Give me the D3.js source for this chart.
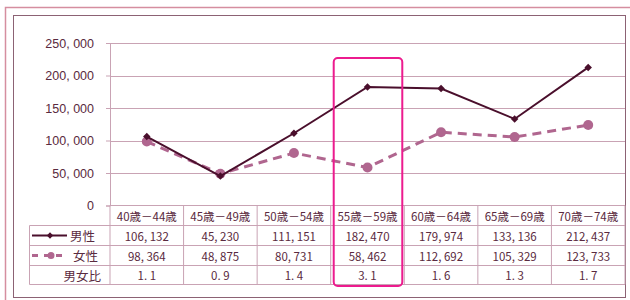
<!DOCTYPE html>
<html>
<head>
<meta charset="utf-8">
<script src="https://cdn.jsdelivr.net/npm/d3@7"></script>
<style>
  body { margin: 0; background: #fff; }
  svg { display: block; font-family: "Noto Sans CJK JP", "Noto Sans", sans-serif; }
</style>
</head>
<body>
<svg id="chart" width="630" height="300"></svg>
<script>
const categories = ["40歳－44歳", "45歳－49歳", "50歳－54歳", "55歳－59歳", "60歳－64歳", "65歳－69歳", "70歳－74歳"];
const maleValues = [106132, 45230, 111151, 182470, 179974, 133136, 212437];
const femaleValues = [98364, 48875, 80731, 58462, 112692, 105329, 123733];
const ratioValues = ["1. 1", "0. 9", "1. 4", "3. 1", "1. 6", "1. 3", "1. 7"];
const yTicks = [0, 50000, 100000, 150000, 200000, 250000];
const highlightCategory = "55歳－59歳";

const svg = d3.select("#chart");
const textColor = "#5a2a40";
const gridColor = "#c9a3b4";
const maleColor = "#4a0f2c";
const femaleColor = "#b0668f";

// frames
svg.append("path")
    .attr("d", "M5.5,300 V7.5 H630")
    .attr("fill", "none")
    .attr("stroke", "#d58ea0")
    .attr("stroke-width", 1.5);
svg.append("rect")
    .attr("x", 13.5).attr("y", 15.5)
    .attr("width", 612).attr("height", 282)
    .attr("fill", "none")
    .attr("stroke", "#8c6274");

const plotLeft = 110, plotRight = 625, plotTop = 43, plotBottom = 205.5;

const x = d3.scaleBand()
    .domain(categories)
    .range([plotLeft, plotRight]);

const y = d3.scaleLinear()
    .domain([0, 250000])
    .range([plotBottom, plotTop]);

const fmt = v => d3.format(",")(v).replace(",", ", ");

// gridlines + ticks
const yAxis = svg.append("g")
    .attr("transform", `translate(${plotLeft},0)`)
    .call(d3.axisLeft(y).tickValues(yTicks).tickSize(4).tickPadding(12).tickFormat(fmt));
yAxis.select(".domain").attr("stroke", gridColor);
yAxis.selectAll(".tick line").attr("stroke", gridColor);
yAxis.selectAll(".tick text")
    .attr("fill", textColor)
    .style("font-size", "12.5px");

svg.append("g")
    .selectAll("line")
    .data(yTicks.filter(t => t > 0))
    .join("line")
    .attr("x1", plotLeft).attr("x2", plotRight)
    .attr("y1", d => Math.round(y(d)) + 0.5)
    .attr("y2", d => Math.round(y(d)) + 0.5)
    .attr("stroke", gridColor);

svg.append("line")
    .attr("x1", plotLeft).attr("x2", plotRight)
    .attr("y1", plotBottom).attr("y2", plotBottom)
    .attr("stroke", gridColor);

const cx = d => x(d) + x.bandwidth() / 2;

// female series (dashed, circles)
const femaleLine = d3.line()
    .x((d, i) => cx(categories[i]))
    .y(d => y(d));
svg.append("path")
    .datum(femaleValues)
    .attr("d", femaleLine)
    .attr("fill", "none")
    .attr("stroke", femaleColor)
    .attr("stroke-width", 3)
    .attr("stroke-dasharray", "9,6");
svg.append("g")
    .selectAll("circle")
    .data(femaleValues)
    .join("circle")
    .attr("cx", (d, i) => cx(categories[i]))
    .attr("cy", d => y(d))
    .attr("r", 5)
    .attr("fill", femaleColor);

// male series (solid, diamonds = rotated squares)
svg.append("path")
    .datum(maleValues)
    .attr("d", d3.line().x((d, i) => cx(categories[i])).y(d => y(d)))
    .attr("fill", "none")
    .attr("stroke", maleColor)
    .attr("stroke-width", 2);
svg.append("g")
    .selectAll("path")
    .data(maleValues)
    .join("path")
    .attr("d", d3.symbol(d3.symbolSquare, 28))
    .attr("transform", (d, i) => `translate(${cx(categories[i])},${y(d)}) rotate(45)`)
    .attr("fill", maleColor);

// data table
const rowY = [205.5, 225.5, 245.5, 265.5, 284.5];
const tableLeft = 29.5;
const tbl = svg.append("g").attr("stroke", gridColor).attr("fill", "none");
// horizontal lines
rowY.forEach((ry, i) => {
    tbl.append("line")
        .attr("x1", i === 0 ? plotLeft : tableLeft).attr("x2", plotRight)
        .attr("y1", ry).attr("y2", ry);
});
// vertical lines
tbl.append("line").attr("x1", tableLeft).attr("x2", tableLeft).attr("y1", rowY[1]).attr("y2", rowY[4]);
categories.concat(["end"]).forEach((c, i) => {
    const lx = c === "end" ? plotRight : x(c);
    tbl.append("line").attr("x1", lx).attr("x2", lx).attr("y1", rowY[0]).attr("y2", rowY[4]);
});

const cellText = (tx, ty, txt, anchor, size) => svg.append("text")
    .attr("x", tx).attr("y", ty)
    .attr("text-anchor", anchor || "middle")
    .attr("dominant-baseline", "central")
    .attr("fill", textColor)
    .style("font-size", size || "11.5px")
    .text(txt);

categories.forEach((c, i) => {
    cellText(cx(c), (rowY[0] + rowY[1]) / 2, c);
    cellText(cx(c), (rowY[1] + rowY[2]) / 2, fmt(maleValues[i]));
    cellText(cx(c), (rowY[2] + rowY[3]) / 2, fmt(femaleValues[i]));
    cellText(cx(c), (rowY[3] + rowY[4]) / 2, ratioValues[i]);
});

// legend keys
const mY = (rowY[1] + rowY[2]) / 2, fY = (rowY[2] + rowY[3]) / 2;
svg.append("line").attr("x1", 32).attr("x2", 67).attr("y1", mY).attr("y2", mY)
    .attr("stroke", maleColor).attr("stroke-width", 2);
svg.append("path").attr("d", d3.symbol(d3.symbolSquare, 20))
    .attr("transform", `translate(50,${mY}) rotate(45)`).attr("fill", maleColor);
cellText(70, mY, "男性", "start", "12.5px");

svg.append("line").attr("x1", 32).attr("x2", 67).attr("y1", fY).attr("y2", fY)
    .attr("stroke", femaleColor).attr("stroke-width", 3).attr("stroke-dasharray", "6,6");
svg.append("circle").attr("cx", 51).attr("cy", fY).attr("r", 3.5).attr("fill", femaleColor);
cellText(73, fY, "女性", "start", "12.5px");
cellText(101, (rowY[3] + rowY[4]) / 2, "男女比", "end", "12.5px");

// highlight box
svg.append("rect")
    .attr("x", x(highlightCategory) + 3)
    .attr("y", 58)
    .attr("width", x.bandwidth() - 5)
    .attr("height", 228)
    .attr("rx", 4)
    .attr("fill", "none")
    .attr("stroke", "#ec1b8e")
    .attr("stroke-width", 2);
</script>
</body>
</html>
